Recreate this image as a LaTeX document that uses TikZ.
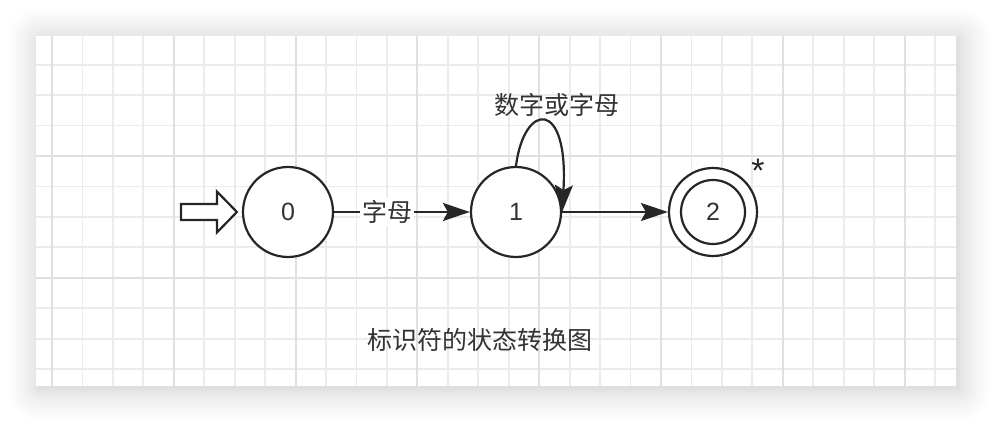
\documentclass[tikz,border=0pt]{standalone}
\usepackage{fontspec}
\setmainfont{Liberation Sans}
\newfontfamily\cjk{Noto Sans CJK SC}
\usetikzlibrary{arrows.meta}
\definecolor{ink}{HTML}{262626}
\definecolor{txt}{HTML}{333333}
\definecolor{gridminor}{HTML}{EBEBEB}
\definecolor{gridmajor}{HTML}{E0E0E0}
\begin{document}
\begin{tikzpicture}[x=1pt,y=-1pt,
  state/.style={circle, draw=ink, line width=2.2pt, fill=white, minimum size=90pt, inner sep=0pt, font=\fontsize{25}{30}\selectfont, text=txt},
  edge/.style={draw=ink, line width=2.2pt, -{Stealth[length=27pt, width=18pt, inset=5pt]}},
  lbl/.style={font=\cjk\fontsize{25}{30}\selectfont, text=txt},
  gminor/.style={draw=gridminor, line width=1.8pt},
  gmajor/.style={draw=gridmajor, line width=1.9pt},
]
\useasboundingbox (0,0) rectangle (992,422);
\fill[white] (0,0) rectangle (992,422);
% shadow
\foreach \i in {1,...,32} {
  \pgfmathsetmacro\d{32*(\i/32)^1.6}
  \fill[black, fill opacity=0.0055, rounded corners=\d] ({39-\d},{39-\d}) rectangle ({959+\d},{389+\d});
}
% panel
\fill[white] (36,36) rectangle (956,386);
% grid
\foreach \k in {0,...,29}
  \draw[gminor] ({52+30.45*\k},36) -- ({52+30.45*\k},386);
\foreach \k in {-3,...,7}
  \draw[gminor] (36,{156+30.45*\k}) -- (956,{156+30.45*\k});
\foreach \k in {0,4,...,28}
  \draw[gmajor] ({52+30.45*\k},36) -- ({52+30.45*\k},386);
\foreach \k in {0,4}
  \draw[gmajor] (36,{156+30.45*\k}) -- (956,{156+30.45*\k});
% states
\node[state] (s0) at (288,212) {0};
\node[state] (s1) at (516,212) {1};
\node[state, minimum size=88pt] (s2) at (713,212) {};
\node[state, minimum size=64pt] (s2in) at (s2.center) {2};
% start arrow
\draw[ink, line width=2.2pt, fill=white] ([xshift=-5pt]s0.west) -- ++(-20,-20.5) -- ++(0,12.5) -- ++(-36,0) -- ++(0,16) -- ++(36,0) -- ++(0,12.5) -- cycle;
% edges
\draw[edge] (s0) -- node[lbl, fill=white, pos=0.39, inner sep=2pt] (l01) {字母} (s1);
\draw[edge] (s1) -- (s2);
\draw[edge] (s1.north) .. controls +(8,-64) and +(7,-114) .. (s1.east);
% labels
\node[lbl] (loop) at (557,105) {数字或字母};
\node[font=\fontsize{34}{40}\selectfont, text=ink] (star) at (758,171) {*};
\node[lbl] (title) at (480,340) {标识符的状态转换图};
\end{tikzpicture}
\end{document}
